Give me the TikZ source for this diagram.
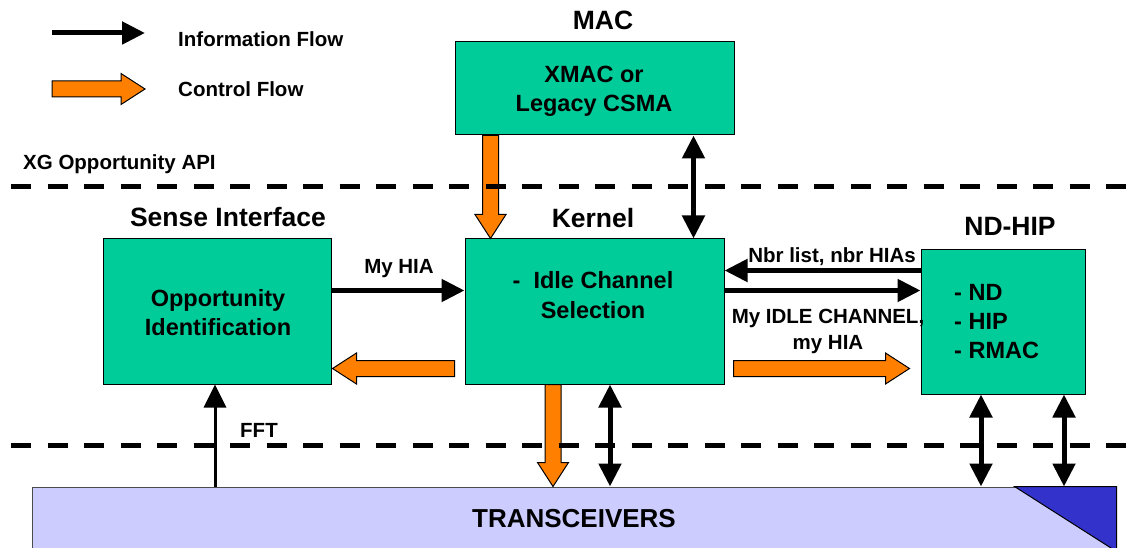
\documentclass[tikz,border=0pt]{standalone}
\usepackage{fontspec}
\setmainfont{Liberation Sans}
\usetikzlibrary{arrows.meta,calc}

\definecolor{blockgreen}{HTML}{00CC99}
\definecolor{ctrlorange}{HTML}{FF8000}
\definecolor{trxblue}{HTML}{CCCCFF}
\definecolor{trxdark}{HTML}{3333CC}

\tikzset{
  block/.style={draw, fill=blockgreen, line width=1pt, inner sep=0pt},
  title/.style={font=\fontsize{26.5}{30}\selectfont\bfseries, anchor=base, inner sep=0pt},
  lbl/.style={font=\fontsize{20.5}{26}\selectfont\bfseries, anchor=base, inner sep=0pt},
  boxtxt/.style={font=\fontsize{23.5}{29}\selectfont\bfseries, align=center, anchor=base, inner sep=0pt},
  info/.style={line width=5pt, -{Triangle[length=23pt,width=22pt]}},
  infoboth/.style={line width=5pt, {Triangle[length=23pt,width=22pt]}-{Triangle[length=23pt,width=22pt]}},
  ctrl/.style={draw, fill=ctrlorange, line width=1pt, line join=miter},
  api line/.style={line width=5pt, dash pattern=on 20pt off 16.5pt}
}

% fat orange arrow from #1 (tail) to #2 (tip)
\newcommand\ctrlflow[2]{%
  \path ($(#2)!24pt!(#1)$) coordinate (hb);
  \draw[ctrl] ($(#1)!8pt!90:(#2)$) -- ($(hb)!8pt!90:(#2)$) -- ($(hb)!15.5pt!90:(#2)$) -- (#2)
    -- ($(hb)!15.5pt!-90:(#2)$) -- ($(hb)!8pt!-90:(#2)$) -- ($(#1)!8pt!-90:(#2)$) -- cycle;}

\begin{document}
\begin{tikzpicture}[x=1pt,y=-1pt]
\useasboundingbox (0,0) rectangle (1133,548);

% legend
\coordinate (info0) at (52,33);
\coordinate (info1) at (145,33);
\coordinate (ctl0) at (52,89);
\coordinate (ctl1) at (145,89);
\draw[info] (info0) -- (info1);
\ctrlflow{ctl0}{ctl1}
\node[lbl, anchor=base west] (infotxt) at (178,46.5) {Information Flow};
\node[lbl, anchor=base west] (ctltxt) at (178,97) {Control Flow};
\node[lbl, anchor=base west] (apitxt) at (23,170) {XG Opportunity API};

% blocks
\node[block, minimum width=279pt, minimum height=93pt] (mac) at (594.5,88.5) {};
\node[block, minimum width=259pt, minimum height=145pt] (kernel) at (594.5,311.5) {};
\node[block, minimum width=228pt, minimum height=145pt] (sense) at (217,311.5) {};
\node[block, minimum width=164pt, minimum height=144pt] (ndhip) at (1003,322) {};
\node[draw=black!70, fill=trxblue, line width=1pt, inner sep=0pt, minimum width=1084pt, minimum height=64pt,
  font=\fontsize{26}{30}\selectfont\bfseries] (trx) at (574,519) {TRANSCEIVERS};
\fill[trxdark, draw=black, line width=1pt] ([xshift=-102pt]trx.north east) -- (trx.north east) -- (trx.south east) -- cycle;

\node[title] (mactitle) at (603,30) {MAC};
\node[title] (sensetitle) at (228,227) {Sense Interface};
\node[title] (kerneltitle) at (593,228) {Kernel};
\node[title] (ndhiptitle) at (1010,236) {ND-HIP};

\node[boxtxt] (mactxt) at (594,112) {XMAC or\\Legacy CSMA};
\node[boxtxt] (kerneltxt) at (593,318) {-\ \ Idle Channel\\Selection};
\node[boxtxt] (sensetxt) at (218,335) {Opportunity\\Identification};
\node[boxtxt, align=left, anchor=base west] (ndhiptxt) at (954,358) {- ND\\- HIP\\- RMAC};

% control flow
\coordinate (m1) at ([xshift=36pt]mac.south west);
\coordinate (m2) at (m1 |- kernel.north);
\ctrlflow{m1}{m2}
\coordinate (k1) at ([xshift=-10pt,yshift=16pt]kernel.south west);
\coordinate (k2) at ([xshift=1pt]sense.east |- k1);
\ctrlflow{k1}{k2}
\coordinate (k3) at ([xshift=9pt,yshift=16pt]kernel.south east);
\coordinate (k4) at ([xshift=-11pt]ndhip.west |- k3);
\ctrlflow{k3}{k4}
\coordinate (k5) at ([xshift=-41.5pt]kernel.south);
\coordinate (k6) at (k5 |- trx.north);
\ctrlflow{k5}{k6}

% information flow
\draw[infoboth] ([xshift=-41pt]mac.south east) -- ([xshift=-41pt]mac.south east |- kernel.north);
\draw[info] ([yshift=-52pt]sense.north east) -- ([yshift=-52pt]sense.north east -| kernel.west);
\node[lbl] (hiatxt) at (399,273) {My HIA};
\draw[info] ([yshift=-21pt]ndhip.north west) -- ([yshift=-21pt]ndhip.north west -| kernel.east);
\node[lbl] (nbrtxt) at (832,262) {Nbr list, nbr HIAs};
\draw[info] ([yshift=-52pt]kernel.north east) -- ([yshift=-52pt]kernel.north east -| ndhip.west);
\node[lbl, align=center] (idletxt) at (828,349) {My IDLE CHANNEL,\\my HIA};
\draw[info, line width=3pt] ([xshift=-2pt]sense.south |- trx.north) -- ([xshift=-2pt]sense.south);
\node[lbl, anchor=base west] (ffttxt) at (240,437) {FFT};
\draw[infoboth] ([xshift=15.5pt]kernel.south) -- ([xshift=15.5pt]kernel.south |- trx.north);
\draw[infoboth] ([xshift=-22pt]ndhip.south) -- ([xshift=-22pt]ndhip.south |- trx.north);
\draw[infoboth] ([xshift=61pt]ndhip.south) -- ([xshift=61pt]ndhip.south |- trx.north);

% API lines
\draw[api line] (11,187) -- (1133,187);
\draw[api line] (11,445) -- (1133,445);
\end{tikzpicture}
\end{document}
